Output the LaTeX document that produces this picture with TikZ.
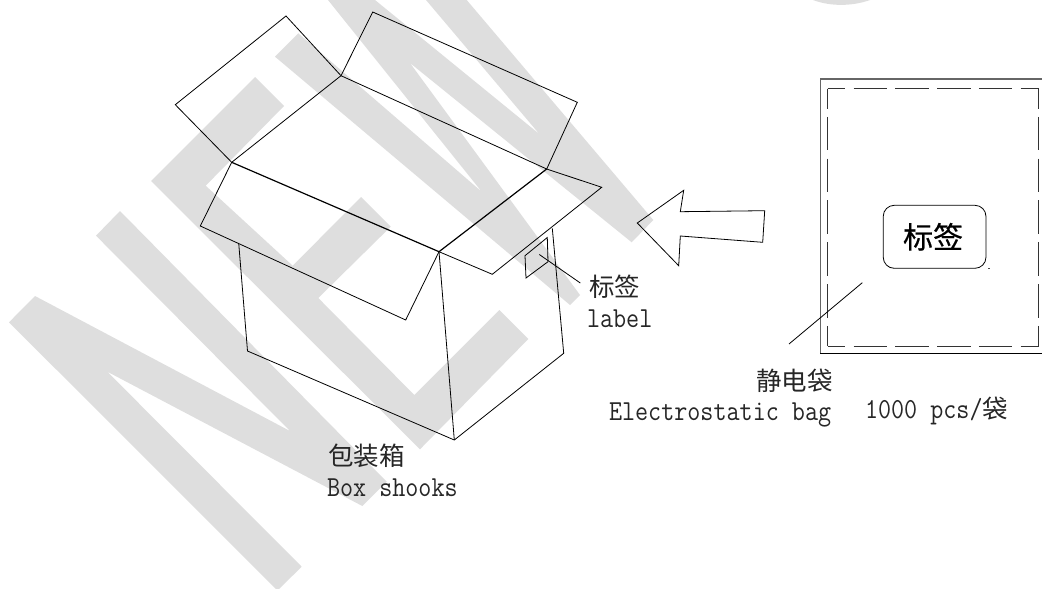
\documentclass[tikz,border=0pt]{standalone}
\usepackage{fontspec}
\newfontfamily\cjk{Noto Sans CJK SC}
\newfontfamily\cjkb[FakeBold=0.5]{Noto Sans CJK SC}
\newfontfamily\latmono[FakeStretch=0.875]{Latin Modern Mono}
\definecolor{wm}{HTML}{DEDEDE}
\tikzset{
  wmark/.style={fill=wm,draw=none},
  ln/.style={draw=black,line width=0.8pt,line join=miter},
  lnheavy/.style={draw=black,line width=1.2pt},
  txt/.style={anchor=base west,inner sep=0pt,outer sep=0pt,text=black!85},
  hz/.style={font=\cjk\fontsize{25.5}{25.5}\selectfont},
  lat/.style={font=\latmono\fontsize{29}{29}\selectfont},
  dashline/.style={draw=black!80,line width=0.9pt,dash pattern=on 33.5pt off 8.3pt}
}
\begin{document}
\begin{tikzpicture}[x=1pt,y=-1pt]
\useasboundingbox (0,0) rectangle (1042,589);
\begin{scope}
\clip (0,0) rectangle (1042,589);
% watermark N
\path[wmark] (35,296) -- (290,431) -- (96,235.7) -- (120,211) -- (386.7,481.7) -- (362.3,506)
  -- (107.3,371.7) -- (301.7,566.7) -- (279,589) -- (276,589) -- (9,322.3) -- cycle;
% watermark E
\path[wmark] (151,181) -- (255,77) -- (284,106) -- (205.7,185.7) -- (292.7,265.7) -- (361,197)
  -- (390.7,226.7) -- (318.3,298) -- (414.3,395) -- (499.3,310) -- (528.3,339) -- (420,449.3) -- cycle;
% watermark W
\path[wmark] (275,56.7) -- (298.3,33.3) -- (481.7,191.7) -- (328,0) -- (375,0) -- (539.3,134)
  -- (426,0) -- (466.7,0) -- (653.3,220) -- (631.7,242.3) -- (410,63) -- (580,295) -- (570,305) -- cycle;
% watermark fragment
\path[wmark] (813,0) .. controls (830,6.5) and (852,6.5) .. (870,0) -- cycle;
\end{scope}
% box coordinates
\coordinate (A) at (231.7,162.3);
\coordinate (B) at (341,75.7);
\coordinate (C) at (546.7,169);
\coordinate (D) at (439,251.7);
\coordinate (F1) at (286,16);
\coordinate (F2) at (175.3,104.7);
\coordinate (G1) at (372.7,12);
\coordinate (G2) at (577.3,102.3);
\coordinate (H1) at (601.7,187.3);
\coordinate (H2) at (492.3,274.3);
\coordinate (J1) at (200.3,226);
\coordinate (J2) at (405.7,320);
\coordinate (K1) at (238.7,243);
\coordinate (K2) at (247.5,351);
\coordinate (K3) at (454.3,440);
\coordinate (K4) at (563.7,353.3);
\coordinate (K5) at (552.3,228.3);
% box
\draw[ln] (A) -- (F2) -- (F1) -- (B) -- (G1) -- (G2) -- (C) -- (H1) -- (H2) -- (D) -- (J2) -- (J1) -- (A);
\draw[ln] (A) -- (B) -- (C);
\draw[lnheavy] (A) -- (D) -- (C);
\draw[ln] (K1) -- (K2) -- (K3) -- (K4) -- (K5);
\draw[ln] (D) -- (K3);
% small label on box
\coordinate (L1) at (525,255.7);
\coordinate (L2) at (547.3,237.5);
\coordinate (L3) at (548,261.7);
\coordinate (L4) at (526,278);
\draw[ln] (L1) -- (L2) -- (L3) -- (L4) -- cycle;
\coordinate (LA) at (539.3,254.5);
\coordinate (LB) at (580.3,283);
\draw[ln] (LA) -- (LB);
% arrow
\draw[ln] (637.3,223) -- (683.7,190.3) -- (680.3,211.7) -- (764.7,210.7) -- (762.7,242.3)
  -- (680.3,236) -- (678.7,265.7) -- cycle;
% bag outer
\draw[draw=black!60,line width=1.3pt] (1042,79) -- (820.3,79) -- (820.3,353.3);
\draw[draw=black,line width=1pt] (820.3,353.3) -- (1042,353.3);
% bag inner dashed
\draw[dashline,dash phase=13.7pt] (827.7,88.7) -- (827.7,346);
\draw[dashline,dash phase=13.7pt] (1038.7,88.7) -- (1038.7,346);
\draw[dashline,dash phase=16pt] (827.7,88.7) -- (1038.7,88.7);
\draw[dashline,dash phase=16pt] (827.7,346) -- (1038.7,346);
% tag
\node[draw=black,line width=0.8pt,rounded corners=11pt,minimum width=102.7pt,minimum height=63pt,
  inner sep=0pt,anchor=center,font=\cjkb\fontsize{30}{30}\selectfont] (tag) at (934.6,236.8) {\raisebox{-3pt}{标签\hspace{3pt}}};
\path[fill=black!70] (988.3,267.9) rectangle (989.8,268.8);
% bag leader
\coordinate (M1) at (862.3,282.7);
\coordinate (M2) at (789,344);
\draw[ln] (M1) -- (M2);
% text
\node[txt,hz] (t1) at (589,296) {标签};
\node[txt,lat] (t2) at (587,327) {label};
\node[txt,hz] (t3) at (328,465) {包装箱};
\node[txt,lat] (t4) at (327,496) {Box shooks};
\node[txt,hz] (t5) at (756,390) {静电袋};
\node[txt,lat] (t6) at (609,420) {Electrostatic bag};
\node[txt,lat] (t7) at (865,418.5) {1000 pcs/{\cjk\fontsize{25.5}{25.5}\selectfont 袋}};
\end{tikzpicture}
\end{document}
